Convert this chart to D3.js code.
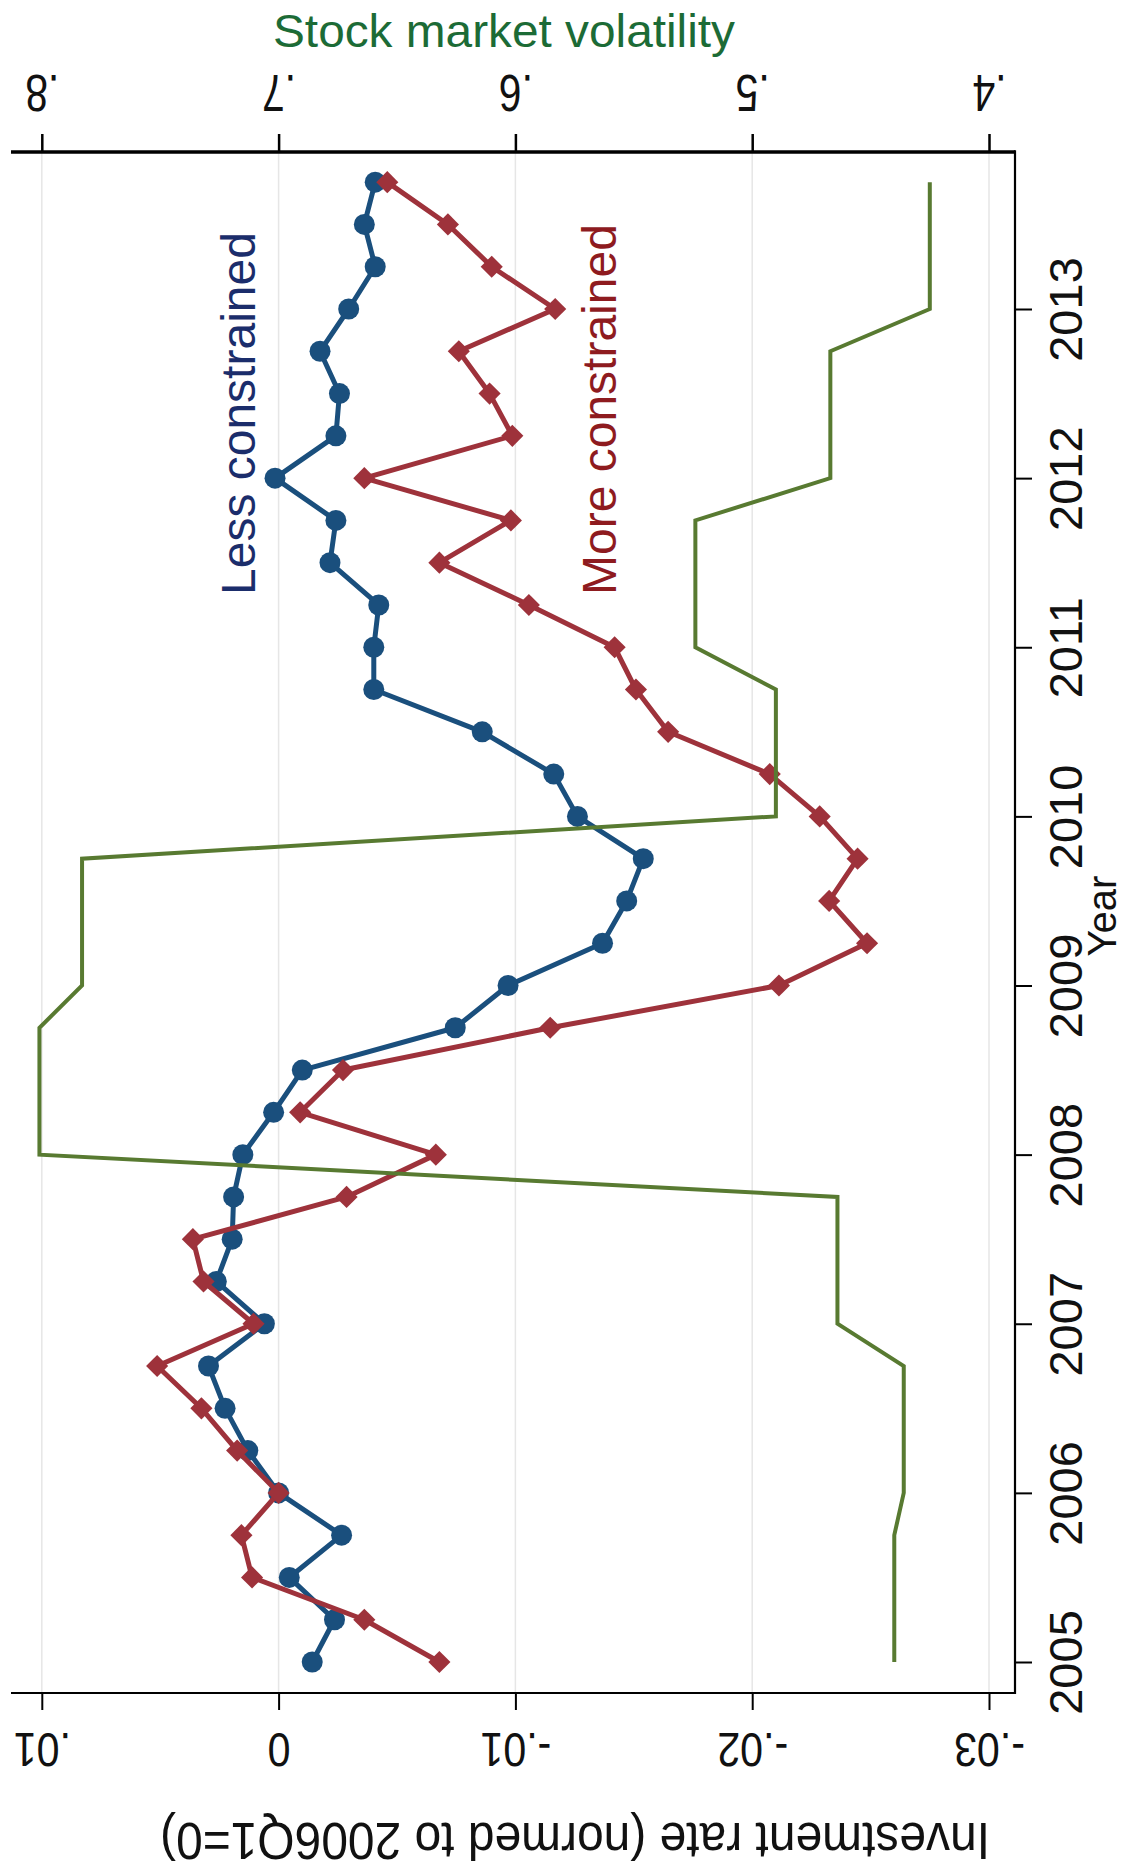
<!DOCTYPE html>
<html>
<head>
<meta charset="utf-8">
<script src="https://cdn.jsdelivr.net/npm/d3@7"></script>
<style>
  html, body { margin: 0; padding: 0; background: #ffffff; }
  svg { display: block; }
  text { font-family: "Liberation Sans", Arial, Helvetica, sans-serif; }
</style>
</head>
<body>
<div id="chart"></div>
<script>
// ---------------- data ----------------
const quarters = [
  2005.00, 2005.25, 2005.50, 2005.75,
  2006.00, 2006.25, 2006.50, 2006.75,
  2007.00, 2007.25, 2007.50, 2007.75,
  2008.00, 2008.25, 2008.50, 2008.75,
  2009.00, 2009.25, 2009.50, 2009.75,
  2010.00, 2010.25, 2010.50, 2010.75,
  2011.00, 2011.25, 2011.50, 2011.75,
  2012.00, 2012.25, 2012.50, 2012.75,
  2013.00, 2013.25, 2013.50, 2013.75
];
const lessConstrained = [
  -0.00142, -0.00236, -0.00045, -0.00266,
   0.00000,  0.00130,  0.00226,  0.00296,
   0.00060,  0.00263,  0.00196,  0.00190,
   0.00151,  0.00021, -0.00100, -0.00746,
  -0.00969, -0.01368, -0.01470, -0.01540,
  -0.01262, -0.01162, -0.00860, -0.00402,
  -0.00402, -0.00423, -0.00217, -0.00242,
   0.00015, -0.00242, -0.00257, -0.00175,
  -0.00296, -0.00408, -0.00362, -0.00408
];
const moreConstrained = [
  -0.00679, -0.00362,  0.00112,  0.00157,
   0.00000,  0.00175,  0.00326,  0.00513,
   0.00106,  0.00317,  0.00362, -0.00287,
  -0.00664, -0.00091, -0.00272, -0.01147,
  -0.02113, -0.02485, -0.02325, -0.02445,
  -0.02285, -0.02074, -0.01645, -0.01509,
  -0.01419, -0.01057, -0.00679, -0.00981,
  -0.00362, -0.00987, -0.00891, -0.00761,
  -0.01168, -0.00900, -0.00715, -0.00459
];
const volatility = [
  0.440, 0.440, 0.440, 0.440,
  0.436, 0.436, 0.436, 0.436,
  0.464, 0.464, 0.464, 0.464,
  0.801, 0.801, 0.801, 0.801,
  0.783, 0.783, 0.783, 0.783,
  0.490, 0.490, 0.490, 0.490,
  0.524, 0.524, 0.524, 0.524,
  0.467, 0.467, 0.467, 0.467,
  0.425, 0.425, 0.425, 0.425
];
const yearTicks = [2005, 2006, 2007, 2008, 2009, 2010, 2011, 2012, 2013];
const investTicks = [0.01, 0, -0.01, -0.02, -0.03];
const investLabels = [".01", "0", "-.01", "-.02", "-.03"];
const volTicks = [0.8, 0.7, 0.6, 0.5, 0.4];
const volLabels = [".8", ".7", ".6", ".5", ".4"];
const titleVol = "Stock market volatility";
const titleInvest = "Investment rate (normed to 2006Q1=0)";
const titleYear = "Year";
const labelLess = "Less constrained";
const labelMore = "More constrained";

// ---------------- layout ----------------
const W = 1124, H = 1872;
const plot = { left: 11, right: 1015, top: 152, bottom: 1693 };
const colBlue = "#1a4f7d", colRed = "#9e323b", colGreen = "#587a31";

const svg = d3.select("#chart").append("svg")
  .attr("width", W).attr("height", H)
  .style("background", "#ffffff");

const yScale = d3.scaleLinear().domain([2005, 2013]).range([1662, 309]);
const xInv = d3.scaleLinear().domain([0.01, -0.03]).range([41.8, 989]);
const xVol = d3.scaleLinear().domain([0.8, 0.4]).range([41.8, 989]);

// gridlines
svg.append("g").selectAll("line").data(investTicks).join("line")
  .attr("x1", d => xInv(d)).attr("x2", d => xInv(d))
  .attr("y1", plot.top).attr("y2", plot.bottom)
  .attr("stroke", "#e6e6e6").attr("stroke-width", 1.5);

// ---------------- series ----------------
const lessData = quarters.map((t, i) => ({ t, v: lessConstrained[i] }));
const moreData = quarters.map((t, i) => ({ t, v: moreConstrained[i] }));
const volData = quarters.map((t, i) => ({ t, v: volatility[i] }));

const lineInv = d3.line().x(d => xInv(d.v)).y(d => yScale(d.t));
const lineVol = d3.line().x(d => xVol(d.v)).y(d => yScale(d.t));

svg.append("path").datum(lessData).attr("d", lineInv)
  .attr("fill", "none").attr("stroke", colBlue).attr("stroke-width", 5)
  .attr("stroke-linejoin", "round");
svg.append("g").selectAll("path").data(lessData).join("path")
  .attr("d", d3.symbol().type(d3.symbolCircle).size(Math.PI * 10.5 * 10.5))
  .attr("transform", d => `translate(${xInv(d.v)},${yScale(d.t)})`)
  .attr("fill", colBlue);

svg.append("path").datum(moreData).attr("d", lineInv)
  .attr("fill", "none").attr("stroke", colRed).attr("stroke-width", 5)
  .attr("stroke-linejoin", "round");
svg.append("g").selectAll("path").data(moreData).join("path")
  .attr("d", d3.symbol().type(d3.symbolSquare).size(245))
  .attr("transform", d => `translate(${xInv(d.v)},${yScale(d.t)}) rotate(45)`)
  .attr("fill", colRed);

svg.append("path").datum(volData).attr("d", lineVol)
  .attr("fill", "none").attr("stroke", colGreen).attr("stroke-width", 4)
  .attr("stroke-linejoin", "miter");

// ---------------- axes ----------------
// top (volatility) axis
const axTop = svg.append("g").attr("transform", `translate(0,${plot.top})`)
  .call(d3.axisTop(xVol).tickValues(volTicks)
    .tickFormat((d, i) => volLabels[i]).tickSize(18).tickSizeOuter(0));
axTop.select(".domain").remove();
axTop.selectAll(".tick line").attr("stroke", "#000").attr("stroke-width", 2.5);
axTop.selectAll(".tick text")
  .attr("x", null).attr("y", null).attr("dy", null)
  .attr("text-anchor", "middle")
  .attr("transform", `translate(0,${75 - plot.top}) rotate(180) scale(0.8,1)`)
  .attr("font-size", 51).attr("fill", "#111");

// bottom (investment) axis
const axBot = svg.append("g").attr("transform", `translate(0,${plot.bottom})`)
  .call(d3.axisBottom(xInv).tickValues(investTicks)
    .tickFormat((d, i) => investLabels[i]).tickSize(17).tickSizeOuter(0));
axBot.select(".domain").remove();
axBot.selectAll(".tick line").attr("stroke", "#000").attr("stroke-width", 2);
axBot.selectAll(".tick text")
  .attr("x", null).attr("y", null).attr("dy", null)
  .attr("text-anchor", "middle")
  .attr("transform", `translate(0,${1733 - plot.bottom}) rotate(180) scale(0.84,1)`)
  .attr("font-size", 49).attr("fill", "#111");

// right (year) axis
const axRight = svg.append("g").attr("transform", `translate(${plot.right},0)`)
  .call(d3.axisRight(yScale).tickValues(yearTicks)
    .tickFormat(d3.format("d")).tickSize(17).tickSizeOuter(0));
axRight.select(".domain").remove();
axRight.selectAll(".tick line").attr("stroke", "#000").attr("stroke-width", 2);
axRight.selectAll(".tick text")
  .attr("x", null).attr("y", null).attr("dy", null)
  .attr("text-anchor", "middle")
  .attr("transform", `translate(${1082 - plot.right},0) rotate(-90)`)
  .attr("font-size", 47).attr("fill", "#111");

// axis lines
svg.append("line").attr("x1", plot.left).attr("x2", plot.right)
  .attr("y1", plot.top).attr("y2", plot.top)
  .attr("stroke", "#000").attr("stroke-width", 3.5);
svg.append("line").attr("x1", plot.left).attr("x2", plot.right)
  .attr("y1", plot.bottom).attr("y2", plot.bottom)
  .attr("stroke", "#000").attr("stroke-width", 2.2);
svg.append("line").attr("x1", plot.right).attr("x2", plot.right)
  .attr("y1", plot.top - 1.75).attr("y2", plot.bottom + 1.1)
  .attr("stroke", "#000").attr("stroke-width", 2.2);

// ---------------- titles ----------------
svg.append("text").text(titleVol)
  .attr("x", 504).attr("y", 47).attr("text-anchor", "middle")
  .attr("textLength", 462).attr("lengthAdjust", "spacingAndGlyphs")
  .attr("font-size", 46).attr("fill", "#1c6b36");

svg.append("text").text(titleInvest)
  .attr("text-anchor", "middle")
  .attr("transform", `translate(575,1823) rotate(180) scale(0.94,1)`)
  .attr("font-size", 51).attr("fill", "#111");

svg.append("text").text(titleYear)
  .attr("text-anchor", "middle")
  .attr("transform", `translate(1116,916) rotate(-90)`)
  .attr("font-size", 40).attr("fill", "#111");

svg.append("text").text(labelLess)
  .attr("text-anchor", "start")
  .attr("transform", `translate(255,595) rotate(-90)`)
  .attr("font-size", 48).attr("fill", "#1b2d6b");

svg.append("text").text(labelMore)
  .attr("text-anchor", "start")
  .attr("transform", `translate(616,595) rotate(-90)`)
  .attr("font-size", 48).attr("fill", "#8e1b1f");
</script>
</body>
</html>
